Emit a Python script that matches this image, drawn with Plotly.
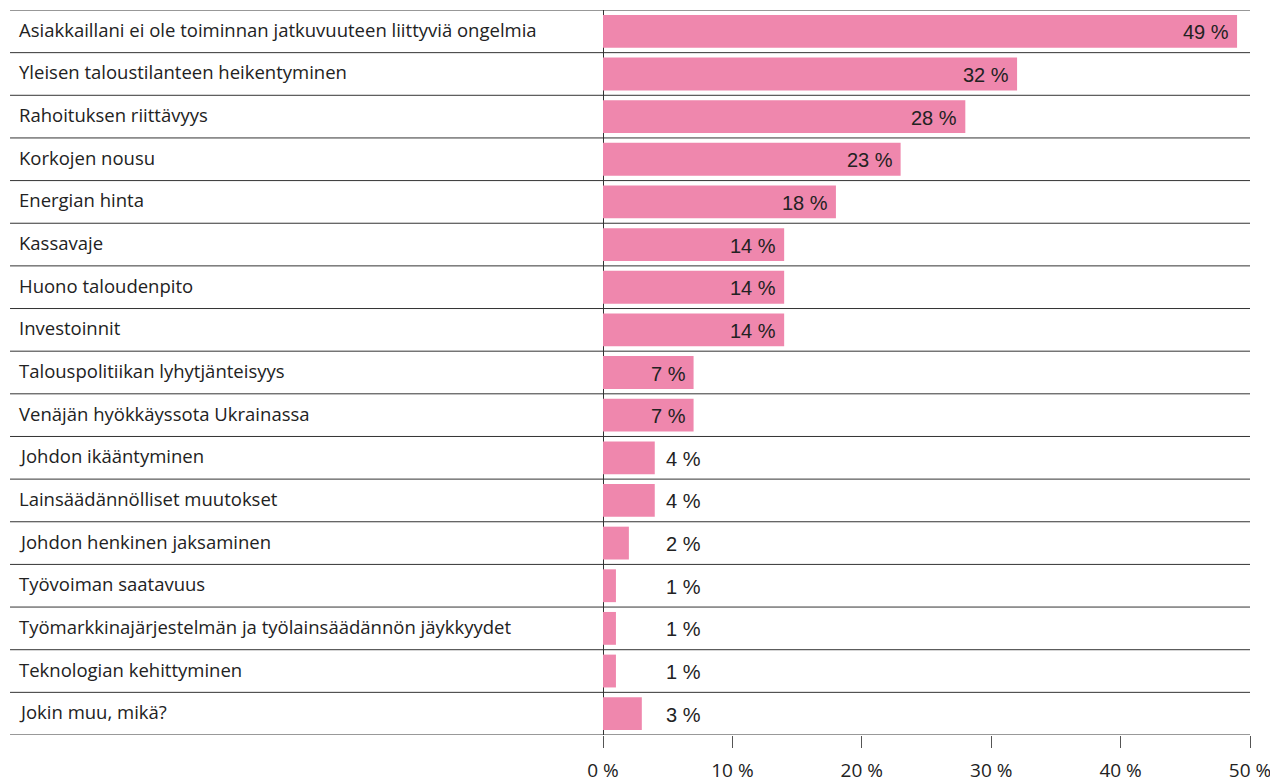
import plotly.graph_objects as go

categories = [
    "Asiakkaillani ei ole toiminnan jatkuvuuteen liittyviä ongelmia",
    "Yleisen taloustilanteen heikentyminen",
    "Rahoituksen riittävyys",
    "Korkojen nousu",
    "Energian hinta",
    "Kassavaje",
    "Huono taloudenpito",
    "Investoinnit",
    "Talouspolitiikan lyhytjänteisyys",
    "Venäjän hyökkäyssota Ukrainassa",
    "Johdon ikääntyminen",
    "Lainsäädännölliset muutokset",
    "Johdon henkinen jaksaminen",
    "Työvoiman saatavuus",
    "Työmarkkinajärjestelmän ja työlainsäädännön jäykkyydet",
    "Teknologian kehittyminen",
    "Jokin muu, mikä?",
]
values = [49, 32, 28, 23, 18, 14, 14, 14, 7, 7, 4, 4, 2, 1, 1, 1, 3]
tick_vals = [0, 10, 20, 30, 40, 50]
tick_text = ["0 %", "10 %", "20 %", "30 %", "40 %", "50 %"]

PINK = "#EF87AD"
LINE = "#333333"
FONT = "Open Sans"
VFONT = "Liberation Sans"

n = len(categories)

fig = go.Figure(go.Bar(
    x=values, y=list(range(n)), orientation="h",
    marker=dict(color=PINK, line=dict(width=0)),
    width=0.77, hoverinfo="x+y",
))

annotations = []
for i, (c, v) in enumerate(zip(categories, values)):
    annotations.append(dict(
        x=-0.9056, xref="paper", y=i, yref="y", text=c, showarrow=False,
        xanchor="left", yanchor="middle", yshift=2,
        font=dict(family=FONT, size=18.5, color="#222222"),
    ))
    if v >= 5:
        annotations.append(dict(
            x=v, xref="x", y=i, yref="y", text=f"{v} %", showarrow=False,
            xanchor="right", yanchor="middle", xshift=-6, yshift=-1,
            font=dict(family=VFONT, size=20, color="#222222"),
        ))
    else:
        annotations.append(dict(
            x=4.7, xref="x", y=i, yref="y", text=f"{v} %", showarrow=False,
            xanchor="left", yanchor="middle", yshift=-1,
            font=dict(family=VFONT, size=20, color="#222222"),
        ))

shapes = []
for k in range(n + 1):
    shapes.append(dict(
        type="line", xref="paper", yref="y", x0=-0.9165, x1=1,
        y0=k - 0.5, y1=k - 0.5, line=dict(color=LINE, width=1),
    ))

fig.update_layout(
    width=1278, height=782,
    margin=dict(l=595, r=36, t=2, b=55),
    paper_bgcolor="white", plot_bgcolor="white",
    showlegend=False,
    font=dict(family=FONT, color="#222222"),
    annotations=annotations, shapes=shapes,
    xaxis=dict(
        range=[0, 50], tickvals=tick_vals, ticktext=tick_text,
        showgrid=False, zeroline=True, zerolinecolor=LINE, zerolinewidth=1,
        ticks="outside", ticklen=12, tickcolor="#555555", tickwidth=1,
        tickfont=dict(family=FONT, size=19, color="#222222"),
        ticklabelstandoff=6, showline=False,
    ),
    yaxis=dict(
        range=[n - 0.5, -0.5], showticklabels=False, showgrid=False,
        zeroline=False, ticks="",
    ),
)

fig.write_html("out.html")
